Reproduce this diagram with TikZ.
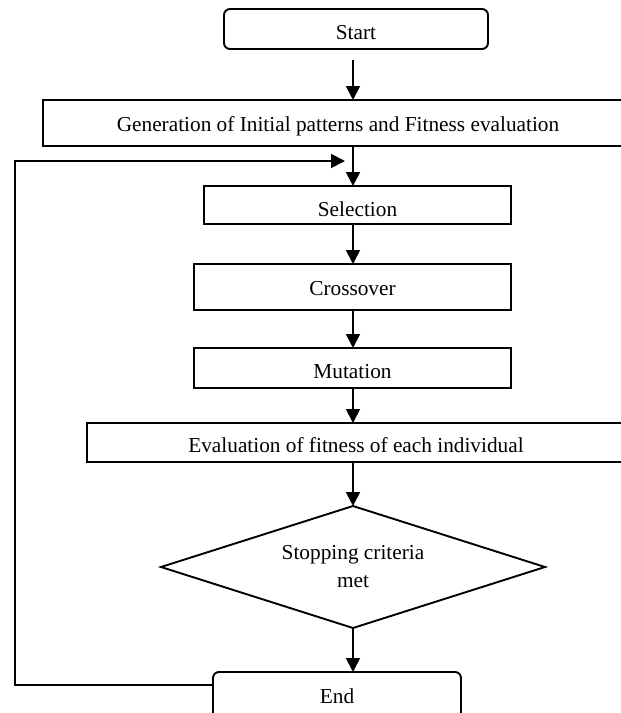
\documentclass[tikz,border=0pt]{standalone}
\usepackage{fontspec}
\setmainfont{Liberation Serif}
\usetikzlibrary{arrows.meta,shapes.geometric}
\begin{document}
\begin{tikzpicture}[x=1pt,y=-1pt,
  every node/.style={font=\fontsize{21.3}{28}\selectfont, inner sep=0pt, outer sep=0pt},
  box/.style={draw, line width=1.9pt, rectangle, minimum width=#1},
  rbox/.style={box=#1, rounded corners=6pt},
  dec/.style={draw, line width=1.9pt, diamond, shape aspect=3.15, minimum width=384pt, minimum height=122pt, align=center},
  arr/.style={line width=1.9pt, -{Triangle[length=14pt,width=14pt]}},
  tb/.style={text height=#1, text depth=0pt}
]
\useasboundingbox (0,0) rectangle (621,713);
\clip (0,0) rectangle (621,713);
\coordinate (ax) at (353,0);
\coordinate (loopy) at (0,685);
\coordinate (loopx) at (14.7,161);
\coordinate (loopend) at (345,161);

\node[rbox=264pt, minimum height=40pt, tb=21pt] (start) at (356,29) {Start};
\node[box=590pt, minimum height=46pt, tb=16pt] (gen) at (338,123) {Generation of Initial patterns and Fitness evaluation};
\node[box=307pt, minimum height=38pt, tb=22pt] (sel) at (357.5,205) {Selection};
\node[box=317pt, minimum height=46pt, tb=16pt] (cross) at (352.5,287) {Crossover};
\node[box=317pt, minimum height=40pt, tb=20pt] (mut) at (352.5,368) {Mutation};
\node[box=538pt, minimum height=39pt, tb=20pt] (eval) at (356,442.5) {Evaluation of fitness of each individual};
\node[dec] (stop) at (353,567) {Stopping criteria\\met};
\node[rbox=248pt, minimum height=62pt, tb=0pt] (end) at (337,703) {End};

\draw[arr, shorten <=11pt] (start.south -| ax) -- (gen.north -| ax);
\draw[arr] (gen.south -| ax) -- (sel.north -| ax);
\draw[arr] (sel.south -| ax) -- (cross.north -| ax);
\draw[arr] (cross.south -| ax) -- (mut.north -| ax);
\draw[arr] (mut.south -| ax) -- (eval.north -| ax);
\draw[arr] (eval.south -| ax) -- (stop.north);
\draw[arr] (stop.south) -- (end.north -| ax);
\draw[arr] (end.west |- loopy) -| (loopx) -- (loopend);
\end{tikzpicture}
\end{document}
